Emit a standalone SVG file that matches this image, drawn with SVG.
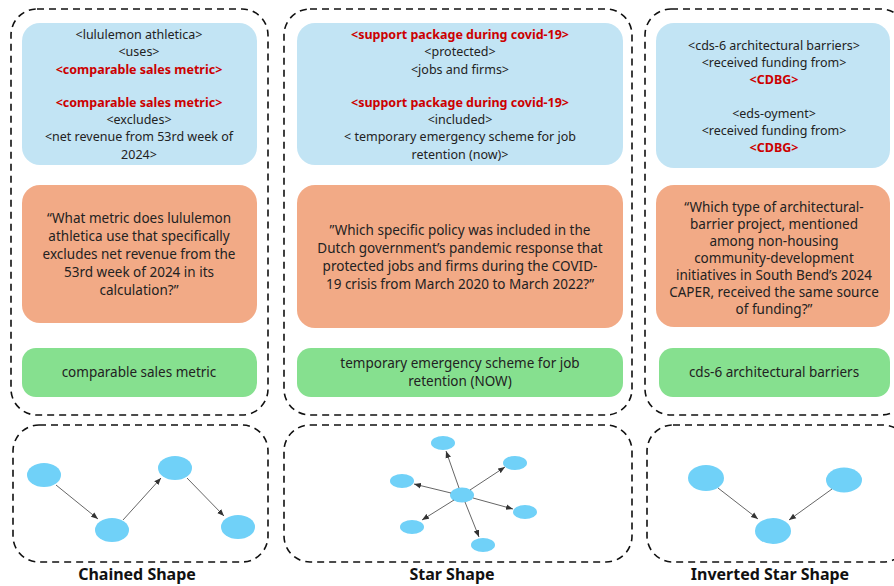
<svg xmlns="http://www.w3.org/2000/svg" width="894" height="586" viewBox="0 0 894 586">
<style>
.panel{fill:none;stroke:#111;stroke-width:1.6;stroke-dasharray:7 5}
.blue{fill:#c2e4f4}
.orange{fill:#f2aa86}
.green{fill:#86e08f}
text{font-family:"Noto Sans","Liberation Sans",sans-serif;fill:#222;text-anchor:middle}
.t{font-size:12.5px}
.q{font-size:13.5px}
.red{fill:#cc0000;font-weight:bold}
.lbl{font-size:16px;font-weight:bold;fill:#111}
.node{fill:#70d1f8}
.edge{stroke:#666;stroke-width:1;fill:none;marker-end:url(#ah)}
</style>
<defs>
<marker id="ah" viewBox="0 0 10 10" refX="10" refY="5" markerWidth="7" markerHeight="7" orient="auto" markerUnits="userSpaceOnUse">
<path d="M0,1 L10,5 L0,9 z" fill="#333"/>
</marker>
</defs>
<rect width="894" height="586" fill="#fff"/>

<g id="panel-chained-top">
<rect class="panel" x="11" y="9" width="257" height="406" rx="26"/>
<rect class="blue" x="22" y="23" width="235" height="142" rx="18"/>
<text class="t" x="139" y="39">&lt;lululemon athletica&gt;</text>
<text class="t" x="139" y="56">&lt;uses&gt;</text>
<text class="t red" x="139" y="74">&lt;comparable sales metric&gt;</text>
<text class="t red" x="139" y="107">&lt;comparable sales metric&gt;</text>
<text class="t" x="139" y="124">&lt;excludes&gt;</text>
<text class="t" x="139" y="141">&lt;net revenue from 53rd week of</text>
<text class="t" x="139" y="159">2024&gt;</text>
<rect class="orange" x="22" y="185" width="235" height="138" rx="18"/>
<text class="q" x="139" y="223">“What metric does lululemon</text>
<text class="q" x="139" y="241">athletica use that specifically</text>
<text class="q" x="139" y="259">excludes net revenue from the</text>
<text class="q" x="139" y="277">53rd week of 2024 in its</text>
<text class="q" x="139" y="295">calculation?”</text>
<rect class="green" x="22" y="348" width="235" height="49" rx="14"/>
<text class="q" x="139" y="377">comparable sales metric</text>
</g>

<g id="panel-star-top">
<rect class="panel" x="284" y="9" width="348" height="406" rx="26"/>
<rect class="blue" x="297" y="23" width="326" height="142" rx="18"/>
<text class="t red" x="460" y="39">&lt;support package during covid-19&gt;</text>
<text class="t" x="460" y="56">&lt;protected&gt;</text>
<text class="t" x="460" y="74">&lt;jobs and firms&gt;</text>
<text class="t red" x="460" y="107">&lt;support package during covid-19&gt;</text>
<text class="t" x="460" y="124">&lt;included&gt;</text>
<text class="t" x="460" y="141">&lt; temporary emergency scheme for job</text>
<text class="t" x="460" y="159">retention (now)&gt;</text>
<rect class="orange" x="297" y="185" width="326" height="143" rx="18"/>
<text class="q" x="460" y="235">”Which specific policy was included in the</text>
<text class="q" x="460" y="253">Dutch government’s pandemic response that</text>
<text class="q" x="460" y="271">protected jobs and firms during the COVID-</text>
<text class="q" x="460" y="289">19 crisis from March 2020 to March 2022?”</text>
<rect class="green" x="297" y="348" width="326" height="49" rx="14"/>
<text class="q" x="460" y="368">temporary emergency scheme for job</text>
<text class="q" x="460" y="386">retention (NOW)</text>
</g>

<g id="panel-inverted-top">
<rect class="panel" x="645" y="9" width="262" height="406" rx="26"/>
<rect class="blue" x="656" y="23" width="234" height="145" rx="18"/>
<text class="t" x="774" y="50">&lt;cds-6 architectural barriers&gt;</text>
<text class="t" x="774" y="67">&lt;received funding from&gt;</text>
<text class="t red" x="774" y="84">&lt;CDBG&gt;</text>
<text class="t" x="774" y="118">&lt;eds-oyment&gt;</text>
<text class="t" x="774" y="135">&lt;received funding from&gt;</text>
<text class="t red" x="774" y="152">&lt;CDBG&gt;</text>
<rect class="orange" x="656" y="185" width="234" height="142" rx="18"/>
<text class="q" x="774" y="212">“Which type of architectural-</text>
<text class="q" x="774" y="229">barrier project, mentioned</text>
<text class="q" x="774" y="246">among non-housing</text>
<text class="q" x="774" y="263">community-development</text>
<text class="q" x="774" y="280">initiatives in South Bend’s 2024</text>
<text class="q" x="774" y="297">CAPER, received the same source</text>
<text class="q" x="774" y="314">of funding?”</text>
<rect class="green" x="659" y="348" width="231" height="49" rx="14"/>
<text class="q" x="774" y="377">cds-6 architectural barriers</text>
</g>

<g id="panel-chained-bottom">
<rect class="panel" x="13" y="425" width="255" height="137" rx="26"/>
<ellipse class="node" cx="44" cy="475" rx="17" ry="12"/>
<ellipse class="node" cx="112" cy="530" rx="17" ry="12"/>
<ellipse class="node" cx="175" cy="468" rx="17" ry="12"/>
<ellipse class="node" cx="238" cy="527" rx="17" ry="12"/>
</g>

<g id="panel-star-bottom">
<rect class="panel" x="284" y="425" width="348" height="137" rx="26"/>
<ellipse class="node" cx="462" cy="495" rx="12" ry="7.5"/>
<ellipse class="node" cx="443" cy="443" rx="12" ry="7"/>
<ellipse class="node" cx="515" cy="463" rx="12" ry="7"/>
<ellipse class="node" cx="402" cy="481" rx="12" ry="7"/>
<ellipse class="node" cx="525" cy="512" rx="12" ry="7"/>
<ellipse class="node" cx="412" cy="527" rx="12" ry="7"/>
<ellipse class="node" cx="483" cy="545" rx="12" ry="7"/>
</g>

<g id="panel-inverted-bottom">
<rect class="panel" x="647" y="425" width="262" height="137" rx="26"/>
<ellipse class="node" cx="706" cy="478" rx="18" ry="13"/>
<ellipse class="node" cx="844" cy="480" rx="18" ry="12.5"/>
<ellipse class="node" cx="773" cy="531" rx="18" ry="13"/>
</g>

<g id="connectors">
<line class="edge" x1="56" y1="485" x2="98" y2="519"/>
<line class="edge" x1="123" y1="520" x2="161" y2="478"/>
<line class="edge" x1="187" y1="478" x2="224" y2="516"/>
<line class="edge" x1="459" y1="488" x2="446" y2="451"/>
<line class="edge" x1="470" y1="490" x2="505" y2="467"/>
<line class="edge" x1="451" y1="493" x2="414" y2="484"/>
<line class="edge" x1="473" y1="498" x2="513" y2="509"/>
<line class="edge" x1="454" y1="500" x2="422" y2="520"/>
<line class="edge" x1="465" y1="502" x2="479" y2="537"/>
<line class="edge" x1="718" y1="488" x2="758" y2="519"/>
<line class="edge" x1="832" y1="489" x2="789" y2="520"/>
</g>

<g id="labels">
<text class="lbl" x="137" y="580">Chained Shape</text>
<text class="lbl" x="452" y="580">Star Shape</text>
<text class="lbl" x="770" y="580">Inverted Star Shape</text>
</g>
</svg>
